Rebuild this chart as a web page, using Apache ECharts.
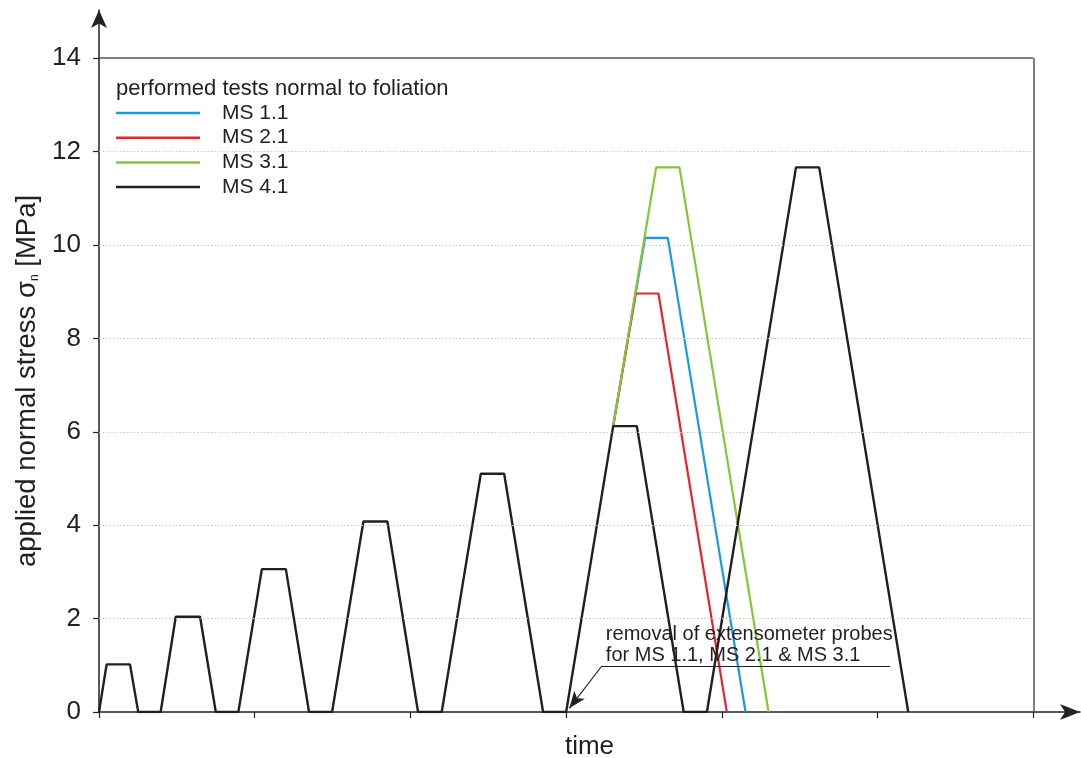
<!DOCTYPE html>
<html lang="en">
<head>
    <meta charset="UTF-8">
    <title>applied normal stress</title>
    <script src="https://cdn.jsdelivr.net/npm/echarts@6/dist/echarts.min.js"></script>
    <style>
        html, body { margin: 0; padding: 0; background: #fff; }
        #container { width: 1081px; height: 758px; }
    </style>
</head>
<body>
<div id="container"></div>
<script type="text/javascript">

    // time in arbitrary units (one x tick = 1), stress in MPa
    var ms41 = [
        [0, 0], [0.049, 1.02], [0.199, 1.02], [0.252, 0], [0.396, 0],
        [0.493, 2.04], [0.649, 2.04], [0.750, 0], [0.895, 0],
        [1.046, 3.06], [1.200, 3.06], [1.349, 0], [1.497, 0],
        [1.698, 4.08], [1.852, 4.08], [2.049, 0], [2.201, 0],
        [2.452, 5.10], [2.602, 5.10], [2.852, 0], [3.000, 0],
        [3.302, 6.12], [3.454, 6.12], [3.755, 0], [3.904, 0],
        [4.476, 11.66], [4.625, 11.66], [5.197, 0]
    ];
    var ms11 = [[3.302, 6.12], [3.507, 10.15], [3.653, 10.15], [4.152, 0]];
    var ms21 = [[3.302, 6.12], [3.447, 8.96], [3.593, 8.96], [4.032, 0]];
    var ms31 = [[3.302, 6.12], [3.578, 11.66], [3.728, 11.66], [4.300, 0]];

    var yTicks = [0, 2, 4, 6, 8, 10, 12, 14];
    var xTicks = [0, 1, 2, 3, 4, 5, 6];
    var gridLevels = [2, 4, 6, 8, 10, 12];

    var myChart = echarts.init(document.getElementById('container'));
    var font = 'Liberation Sans, Arial, sans-serif';

    var option = {
        animation: false,
        title: {
            text: 'performed tests normal to foliation',
            left: 111, top: 73,
            textStyle: { fontFamily: font, fontSize: 22, fontWeight: 'normal', color: '#231f20' }
        },
        legend: {
            orient: 'vertical',
            left: 116, top: 102, padding: 0,
            icon: 'rect',
            itemWidth: 84, itemHeight: 2.5, itemGap: 2.7,
            data: ['MS 1.1', 'MS 2.1', 'MS 3.1', 'MS 4.1'],
            textStyle: { fontFamily: font, fontSize: 21, lineHeight: 22, color: '#231f20', padding: [0, 0, 0, 17] }
        },
        grid: { left: 99, right: 1, top: 10, bottom: 46, outerBoundsMode: 'none' },
        xAxis: {
            type: 'value',
            min: 0, max: 6.30,
            name: 'time',
            nameLocation: 'middle', nameGap: 22,
            nameTextStyle: { fontFamily: font, fontSize: 26, color: '#231f20', verticalAlign: 'top' },
            axisLine: { show: true, symbol: ['none', 'arrow'], symbolSize: [12, 20],
                lineStyle: { color: '#222', width: 1.5 } },
            axisTick: { show: true, customValues: xTicks, length: 6, inside: false,
                lineStyle: { color: '#222', width: 1.2 } },
            axisLabel: { show: false },
            splitLine: { show: false }
        },
        yAxis: {
            type: 'value',
            min: 0, max: 15.03, interval: 2,
            name: '{a|applied normal stress σ}{s|n}{a| [MPa]}',
            nameLocation: 'middle', nameGap: 58, nameRotate: 90,
            nameTextStyle: {
                padding: [0, 40, 0, 0],
                rich: {
                    a: { fontFamily: font, fontSize: 27.5, color: '#231f20' },
                    s: { fontFamily: font, fontSize: 12, color: '#231f20', padding: [15, 0, 0, 0] }
                }
            },
            axisLine: { show: true, symbol: ['none', 'arrow'], symbolSize: [12, 18],
                lineStyle: { color: '#222', width: 1.5 } },
            axisTick: { show: true, customValues: yTicks, length: 6,
                lineStyle: { color: '#222', width: 1.2 } },
            axisLabel: { customValues: yTicks, fontFamily: font, fontSize: 26, color: '#231f20', margin: 18 },
            splitLine: { show: false }
        },
        series: [
            {
                name: 'grid', type: 'line', data: [], silent: true,
                markLine: {
                    silent: true, symbol: 'none', animation: false,
                    label: { show: false },
                    data: gridLevels.map(function (v) {
                        return [{ coord: [0, v], lineStyle: { color: '#c8c8c8', type: [1.5, 2], width: 1 } },
                                { coord: [6, v] }];
                    }).concat([
                        [{ coord: [0, 14], lineStyle: { color: '#555', type: 'solid', width: 1.5 } }, { coord: [6, 14] }],
                        [{ coord: [6, 0], lineStyle: { color: '#555', type: 'solid', width: 1.5 } }, { coord: [6, 14] }]
                    ])
                }
            },
            {
                name: 'MS 1.1', type: 'line', data: ms11, symbol: 'none',
                lineStyle: { color: '#1a9ae0', width: 2.2 }, itemStyle: { color: '#1a9ae0' }
            },
            {
                name: 'MS 2.1', type: 'line', data: ms21, symbol: 'none',
                lineStyle: { color: '#e3262b', width: 2.2 }, itemStyle: { color: '#e3262b' }
            },
            {
                name: 'MS 3.1', type: 'line', data: ms31, symbol: 'none',
                lineStyle: { color: '#86c53a', width: 2.2 }, itemStyle: { color: '#86c53a' }
            },
            {
                name: 'MS 4.1', type: 'line', data: ms41, symbol: 'none',
                lineStyle: { color: '#231f20', width: 2.4 }, itemStyle: { color: '#231f20' },
                markLine: {
                    silent: true, animation: false,
                    label: { show: false },
                    data: [
                        [{ coord: [3.229, 0.985], symbol: 'none', lineStyle: { color: '#231f20', type: 'solid', width: 1.2 } },
                         { coord: [5.081, 0.985], symbol: 'none' }],
                        [{ coord: [3.229, 0.985], symbol: 'none', lineStyle: { color: '#231f20', type: 'solid', width: 1.2 } },
                         { coord: [3.02, 0.08], symbol: 'arrow', symbolSize: [10, 17] }]
                    ]
                },
                markPoint: {
                    silent: true, symbol: 'circle', symbolSize: 0,
                    data: [{
                        coord: [3.255, 0.985],
                        label: {
                            show: true, position: 'insideBottomLeft', distance: 0,
                            formatter: 'removal of extensometer probes\nfor MS 1.1, MS 2.1 & MS 3.1',
                            fontFamily: font, fontSize: 20, lineHeight: 21, color: '#231f20',
                            align: 'left', verticalAlign: 'bottom'
                        }
                    }]
                }
            }
        ]
    };
    myChart.setOption(option);
</script>
</body>
</html>
